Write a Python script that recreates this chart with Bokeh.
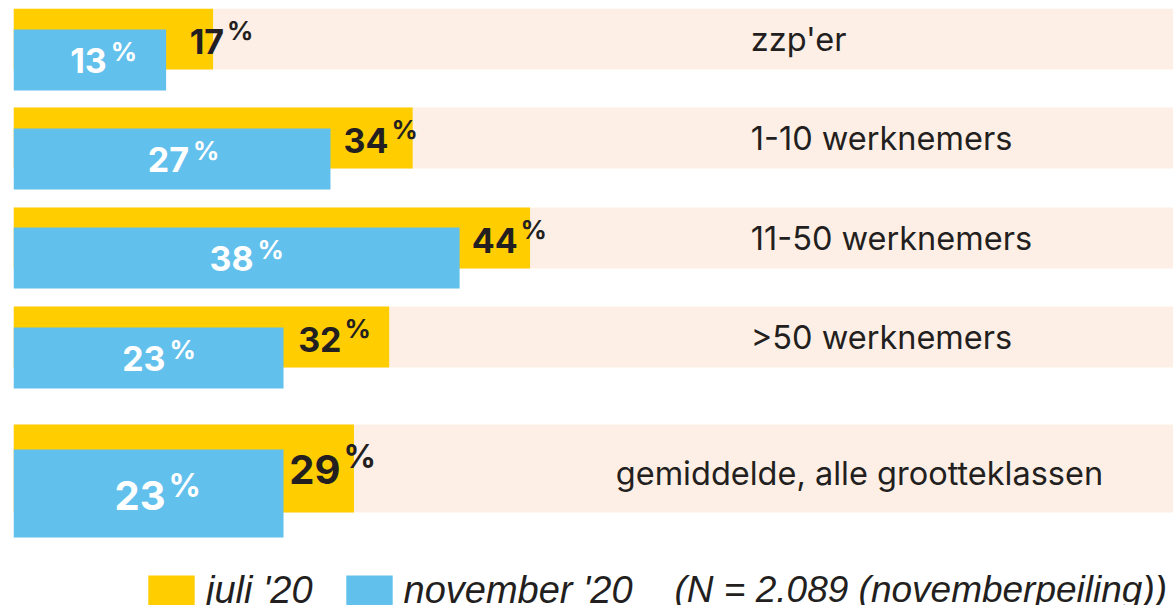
from bokeh.plotting import figure
from bokeh.models import Range1d, Legend, LegendItem, ColumnDataSource
from bokeh.embed import file_html
from bokeh.resources import INLINE
from bokeh.core.properties import value

# ---------------- data ----------------
categories = ["zzp'er", "1-10 werknemers", "11-50 werknemers", ">50 werknemers",
              "gemiddelde, alle grootteklassen"]
juli = [17, 34, 44, 32, 29]
november = [13, 27, 38, 23, 23]
series_names = ["juli '20", "november '20"]
note = "(N = 2.089 (novemberpeiling))"

# ---------------- layout / style ----------------
YELLOW = "#FFCD00"
BLUE = "#62C0EC"
PEACH = "#FDEFE6"
DARK = "#231F20"

W, H = 1173, 605
LEFT, TOP = 13, 8
PX_PER_PCT = 11.74
row_top = [0, 99, 199, 298, 416]      # y-units are pixels from the top of the frame
row_h = [61, 61, 61, 61, 88]
blue_shift = [21, 21, 20, 21, 25]
big = [False, False, False, False, True]
cat_x = [62.8, 62.8, 62.8, 62.8, 51.3]
BL = 0.38   # baseline correction (fraction of font size)

p = figure(width=W, height=H, output_backend="svg", toolbar_location=None,
           x_range=Range1d(0, (W - LEFT) / PX_PER_PCT), y_range=Range1d(H - TOP, 0),
           x_axis_location=None, y_axis_location=None,
           min_border_left=LEFT, min_border_right=0, min_border_top=TOP, min_border_bottom=0)
p.outline_line_color = None
p.xgrid.visible = False
p.ygrid.visible = False
p.background_fill_color = "white"

yc = [t + h / 2 for t, h in zip(row_top, row_h)]
bc = [t + s + h / 2 for t, s, h in zip(row_top, blue_shift, row_h)]

n_fs = [40 if b else 34 for b in big]
p_fs = [32 if b else 26 for b in big]
CAT_FS = 32.5
NOTE_FS = 37

src = ColumnDataSource(dict(
    cat=categories, juli=juli, nov=november,
    yc=yc, bc=bc, h=row_h, full=[100] * len(juli),
    half=[v / 2 for v in november],
    juli_txt=[str(v) for v in juli],
    nov_txt=[str(v) for v in november],
    pct=["%"] * len(juli),
    # blue label
    bn_y=[t + s + (61 if b else 44) - BL * f for t, s, b, f in zip(row_top, blue_shift, big, n_fs)],
    bp_y=[t + s + (61 - 13 if b else 44 - 12) - BL * f for t, s, b, f in zip(row_top, blue_shift, big, p_fs)],
    bn_dx=[17 for b in big],
    bp_dx=[20 if b else 21 for b in big],
    # yellow label
    yn_y=[t + (60 if b else 45.5) - BL * f for t, b, f in zip(row_top, big, n_fs)],
    yp_y=[t + (60 - 16 if b else 45.5 - 14) - BL * f for t, b, f in zip(row_top, big, p_fs)],
    yn_dx=[57 if b else 58 for b in big],
    yp_dx=[60 if b else 61 for b in big],
    n_fs=[f"{f}px" for f in n_fs],
    p_fs=[f"{f}px" for f in p_fs],
    # category labels
    cat_x=cat_x,
    cat_y=[c + (17 if b else 13) - BL * CAT_FS for c, b in zip(yc, big)],
))

p.hbar(y="yc", height="h", left=0, right="full", source=src,
       fill_color=PEACH, line_color=None)
r_juli = p.hbar(y="yc", height="h", left=0, right="juli", source=src,
                fill_color=YELLOW, line_color=None)
r_nov = p.hbar(y="bc", height="h", left=0, right="nov", source=src,
               fill_color=BLUE, line_color=None)

# blue value labels
p.text(x="half", y="bn_y", text="nov_txt", x_offset="bn_dx", source=src,
       text_align="right", text_baseline="alphabetic", text_color="white",
       text_font=value("Inter"), text_font_style="bold", text_font_size="n_fs")
p.text(x="half", y="bp_y", text="pct", x_offset="bp_dx", source=src,
       text_align="left", text_baseline="alphabetic", text_color="white",
       text_font=value("Inter"), text_font_style="bold", text_font_size="p_fs")
# yellow value labels
p.text(x="nov", y="yn_y", text="juli_txt", x_offset="yn_dx", source=src,
       text_align="right", text_baseline="alphabetic", text_color=DARK,
       text_font=value("Inter"), text_font_style="bold", text_font_size="n_fs")
p.text(x="nov", y="yp_y", text="pct", x_offset="yp_dx", source=src,
       text_align="left", text_baseline="alphabetic", text_color=DARK,
       text_font=value("Inter"), text_font_style="bold", text_font_size="p_fs")
# category labels
p.text(x="cat_x", y="cat_y", text="cat", source=src,
       text_align="left", text_baseline="alphabetic", text_color=DARK,
       text_font=value("Inter"), text_font_size=f"{CAT_FS}px")

legend = Legend(items=[LegendItem(label=series_names[0], renderers=[r_juli]),
                       LegendItem(label=series_names[1], renderers=[r_nov])],
                location=(129, -7), orientation="horizontal",
                glyph_width=58, glyph_height=40, label_standoff=6, spacing=27,
                padding=0, margin=0, border_line_color=None, background_fill_alpha=0,
                label_text_font="Liberation Sans", label_text_font_style="italic",
                label_text_font_size="38px", label_text_color=DARK)
p.add_layout(legend)

p.text(x=[(674 - LEFT) / PX_PER_PCT], y=[595 - BL * NOTE_FS], text=[note],
       text_align="left", text_baseline="alphabetic", text_color=DARK,
       text_font=value("Liberation Sans"), text_font_style="italic",
       text_font_size=f"{NOTE_FS}px")

open("out.html", "w").write(file_html(p, INLINE))
